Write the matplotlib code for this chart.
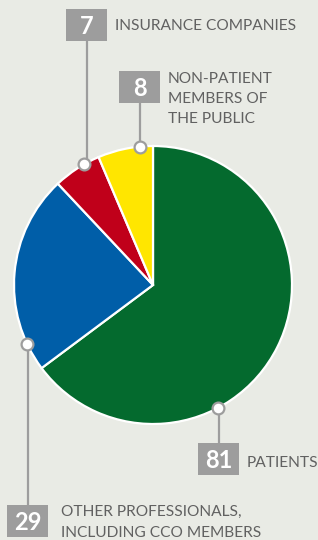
import matplotlib.pyplot as plt
from matplotlib.patches import Rectangle
import numpy as np

# data
categories = ["PATIENTS", "OTHER PROFESSIONALS,\nINCLUDING CCO MEMBERS",
              "INSURANCE COMPANIES", "NON-PATIENT\nMEMBERS OF\nTHE PUBLIC"]
values = [81, 29, 7, 8]
colors = ["#046a2e", "#005ea8", "#c0001a", "#ffe600"]

bg = "#e9ebe5"
box_gray = "#9d9d9d"
text_gray = "#616161"
fam = ["Lato", "DejaVu Sans"]

W, H = 318, 540
fig = plt.figure(figsize=(W / 100, H / 100), dpi=100, facecolor=bg)
ax = fig.add_axes([0, 0, 1, 1])
ax.set_facecolor(bg)

cx, cy, r = 153, H - 285, 139
wedges, _ = ax.pie(values, colors=colors, startangle=90, counterclock=False,
                   center=(cx, cy), radius=r,
                   wedgeprops=dict(edgecolor="white", linewidth=1.6))

# callout layout: marker angle on rim, box x, box top y, text x, first baseline y (pixels)
callouts = [
    (298, 198, 443, 247, 467, 21),
    (205, 7, 505, 61, 516, 21),
    (119.6, 66, 9, 115, 30, 20),
    (95.4, 119, 71, 168, 83, 20),
]
bw, bh = 41, 32
for (ang, bx, by, tx, ty, ls), v, lab in zip(callouts, values, categories):
    a = np.radians(ang)
    mx, my = cx + r * np.cos(a), cy + r * np.sin(a)
    lx = bx + bw / 2
    box_mid = H - by - bh / 2
    ax.plot([lx, lx], [my, box_mid], color=box_gray, lw=1.6, zorder=3,
            solid_capstyle="butt")
    ax.plot(mx, my, "o", ms=8.5, mfc="white", mec=box_gray, mew=1.6, zorder=5)
    ax.add_patch(Rectangle((bx, H - by - bh), bw, bh, facecolor=box_gray,
                           edgecolor="none", zorder=4))
    ax.text(lx, H - by - 25, str(v), color="white", fontsize=17,
            fontweight="bold", ha="center", va="baseline", zorder=6,
            family=fam)
    for i, line in enumerate(lab.split("\n")):
        ax.text(tx, H - ty - i * ls, line, color=text_gray, fontsize=11.2,
                ha="left", va="baseline", family=fam)

ax.set_xlim(0, W)
ax.set_ylim(0, H)
ax.set_aspect("equal")
ax.axis("off")

fig.savefig("out.png", dpi=100, facecolor=bg)
